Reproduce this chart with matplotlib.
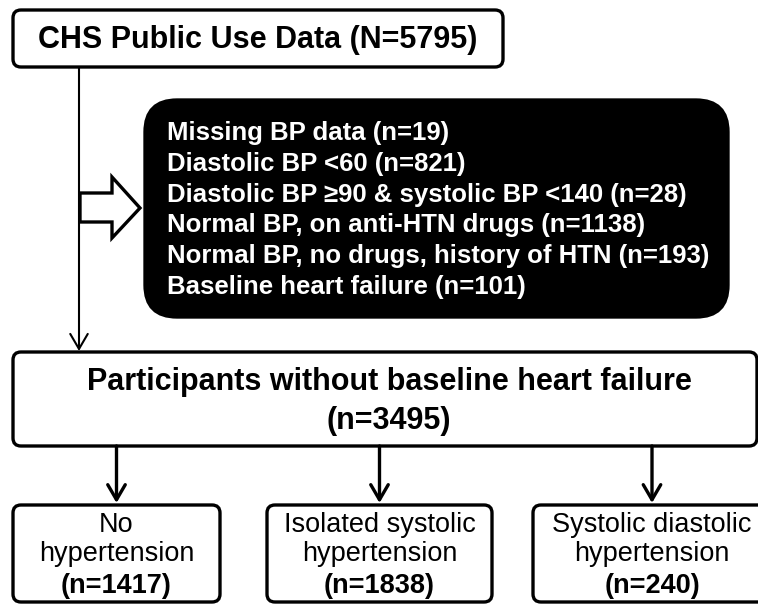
import matplotlib.pyplot as plt
from matplotlib.patches import FancyBboxPatch, Polygon, FancyArrowPatch

plt.rcParams['font.family'] = ['Liberation Sans', 'DejaVu Sans']

# chart content
top_label = "CHS Public Use Data (N=5795)"
exclusions = ["Missing BP data", "Diastolic BP <60", "Diastolic BP \u226590 & systolic BP <140",
              "Normal BP, on anti-HTN drugs", "Normal BP, no drugs, history of HTN",
              "Baseline heart failure"]
exclusion_n = [19, 821, 28, 1138, 193, 101]
middle_label = "Participants without baseline heart failure"
middle_n = 3495
groups = ["No\nhypertension", "Isolated systolic\nhypertension", "Systolic diastolic\nhypertension"]
group_n = [1417, 1838, 240]

W, H = 758, 604
fig = plt.figure(figsize=(W / 100, H / 100), dpi=100)
ax = fig.add_axes([0, 0, 1, 1])
ax.set_xlim(0, W)
ax.set_ylim(H, 0)
ax.axis('off')


def box(x0, y0, x1, y1, r=8, fc='white', lw=2.4):
    p = FancyBboxPatch((x0, y0), x1 - x0, y1 - y0,
                       boxstyle=f"round,pad=0,rounding_size={r}",
                       fc=fc, ec='black', lw=lw, mutation_aspect=1)
    ax.add_patch(p)


def arrow(x, y0, y1, lw=1.6):
    a = FancyArrowPatch((x, y0), (x, y1), arrowstyle='->,head_length=0.6,head_width=0.35',
                        mutation_scale=18, lw=lw, color='black', shrinkA=0, shrinkB=0)
    ax.add_patch(a)


# top box
box(13, 10, 503, 67)
ax.text(258, 40, top_label, ha='center', va='center', fontsize=22, fontweight='bold')

# main vertical arrow
arrow(79, 67, 351, lw=1.5)

# block arrow pointing at exclusions
ax.add_patch(Polygon([(80, 193), (112, 193), (112, 177), (140, 208), (112, 238), (112, 222), (80, 222)],
                     closed=True, fc='white', ec='black', lw=2.4, joinstyle='miter'))

# exclusion box
box(145, 100, 728, 317, r=32, fc='black')
for i, (lab, n) in enumerate(zip(exclusions, exclusion_n)):
    ax.text(167, 133 + i * 30.8, f"{lab} (n={n})", ha='left', va='center',
            fontsize=18.5, fontweight='bold', color='white')

# participants box
box(13, 352, 757, 446)
ax.text(389, 382, middle_label, ha='center', va='center', fontsize=22, fontweight='bold')
ax.text(389, 421, f"(n={middle_n})", ha='center', va='center', fontsize=22, fontweight='bold')

# outcome boxes
lefts = [13, 267, 533]
rights = [220, 492, 771]
for lab, n, x0, x1 in zip(groups, group_n, lefts, rights):
    cx = (x0 + x1) / 2
    arrow(cx, 446, 503, lw=2.4)
    box(x0, 505, x1, 602)
    l1, l2 = lab.split('\n')
    ax.text(cx, 525, l1, ha='center', va='center', fontsize=19.5)
    ax.text(cx, 554, l2, ha='center', va='center', fontsize=19.5)
    ax.text(cx, 586, f"(n={n})", ha='center', va='center', fontsize=19.5, fontweight='bold')

fig.savefig('out.png', dpi=100)
